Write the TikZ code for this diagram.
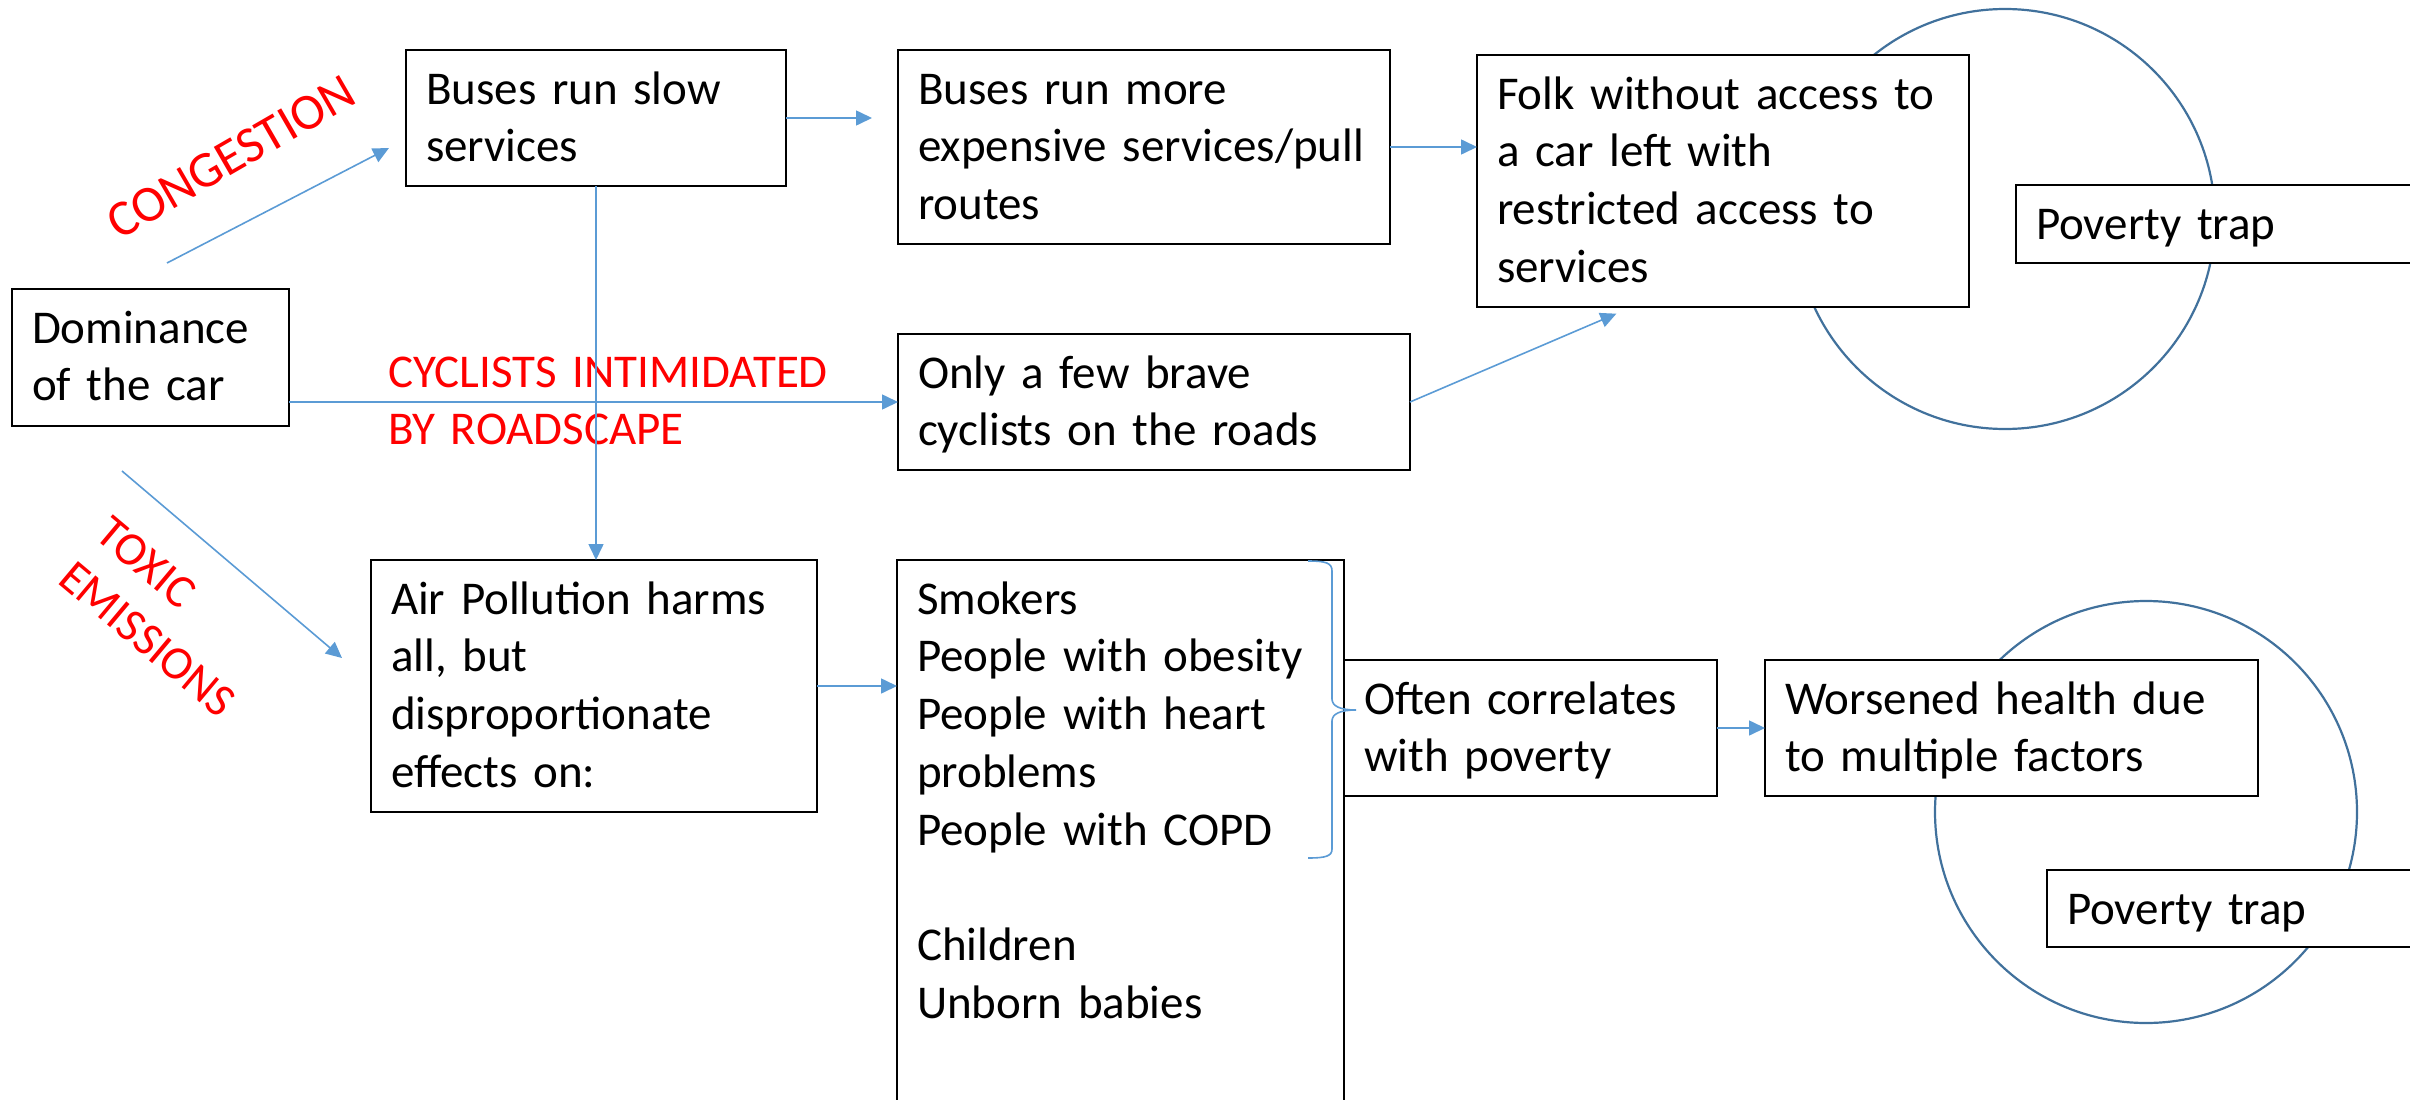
\documentclass[tikz,border=0pt]{standalone}
\usepackage{fontspec}
\setmainfont{Carlito}
\usepackage{tikz}
\usetikzlibrary{arrows.meta}

\definecolor{arrowblue}{HTML}{5B9BD5}
\definecolor{ringblue}{HTML}{41719C}

\begin{document}
\begin{tikzpicture}[
        x=1pt, y=-1pt,
        font=\fontsize{47}{57.8}\selectfont,
        >={Triangle[length=16pt, width=15pt]},
        cause/.style 2 args={rectangle, draw=black, fill=white, line width=2.2pt, anchor=north west, align=left, inner xsep=20pt, inner ysep=0pt, outer sep=0pt, text width=#1, text height=54pt, text depth=#2},
        tag/.style={text=red, inner sep=0pt},
        arrow/.style={->, draw=arrowblue, line width=1.6pt},
        trapring/.style={draw=ringblue, line width=2.2pt}
    ]
    \clip (0,0) rectangle (2410,1100);

    \draw[trapring] (2005,219) circle[radius=210pt];
    \draw[trapring] (2146,812) circle[radius=211pt];

    \node[cause={237pt}{83pt}] (car) at (12,289) {Dominance\\of the car};
    \node[cause={340pt}{82pt}] (slow) at (406,50) {Buses run slow\\services};
    \node[cause={452pt}{140pt}] (more) at (898,50) {Buses run more\\expensive services/pull\\routes};
    \node[cause={452pt}{198pt}] (folk) at (1477,55) {Folk without access to\\a car left with\\restricted access to\\services};
    \node[cause={380pt}{24pt}] (trapA) at (2016,185) {Poverty trap};
    \node[cause={472pt}{82pt}] (brave) at (898,334) {Only a few brave\\cyclists on the roads};
    \node[cause={406pt}{198pt}] (air) at (371,560) {Air Pollution harms\\all, but\\disproportionate\\effects on:};
    \node[cause={407pt}{546pt}] (groups) at (897,560) {Smokers\\People with obesity\\People with heart\\problems\\People with COPD\\[57.8pt]Children\\Unborn babies};
    \node[cause={333pt}{82pt}] (often) at (1344,660) {Often correlates\\with poverty};
    \node[cause={453pt}{82pt}] (worse) at (1765,660) {Worsened health due\\to multiple factors};
    \node[cause={360pt}{23pt}] (trapB) at (2047,870) {Poverty trap};

    \node[tag, rotate=30, font=\fontsize{51}{60}\selectfont] (congestion) at (231,157) {CONGESTION};
    \node[tag, anchor=base west, text width=480pt, align=left] (intimidated) at (388,387) {CYCLISTS INTIMIDATED\\BY ROADSCAPE};
    \node[tag, rotate=-40, align=left] (toxic) at (166,617) {TOXIC\\EMISSIONS};

    \coordinate (congA) at (167,263);
    \coordinate (congB) at (389,148);
    \coordinate (toxA) at (122,471);
    \coordinate (toxB) at (342,658);

    \draw[arrow] (congA) -- (congB);
    \draw[arrow] (toxA) -- (toxB);
    \draw[arrow, shorten >=26pt] (slow.east) -- (more.west |- slow.east);
    \draw[arrow] (more.east) -- (folk.west |- more.east);
    \draw[arrow] (car.east |- brave.west) -- (brave.west);
    \draw[arrow, shorten >=17pt] (brave.east) -- ([xshift=155pt]folk.south west);
    \draw[arrow] (slow.south) -- (slow.south |- air.north);
    \draw[arrow] (air.east) -- (groups.west |- air.east);
    \draw[arrow] (often.east) -- (worse.west);

    % brace round the first four groups
    \draw[arrowblue, line width=1.6pt] (1308,561) .. controls (1326,561) and (1332,563) .. (1332,571) -- (1332,699)
        .. controls (1332,706) and (1340,710) .. (1356,710) .. controls (1340,710) and (1332,714) .. (1332,721)
        -- (1332,849) .. controls (1332,856) and (1326,858) .. (1308,858);
\end{tikzpicture}
\end{document}
